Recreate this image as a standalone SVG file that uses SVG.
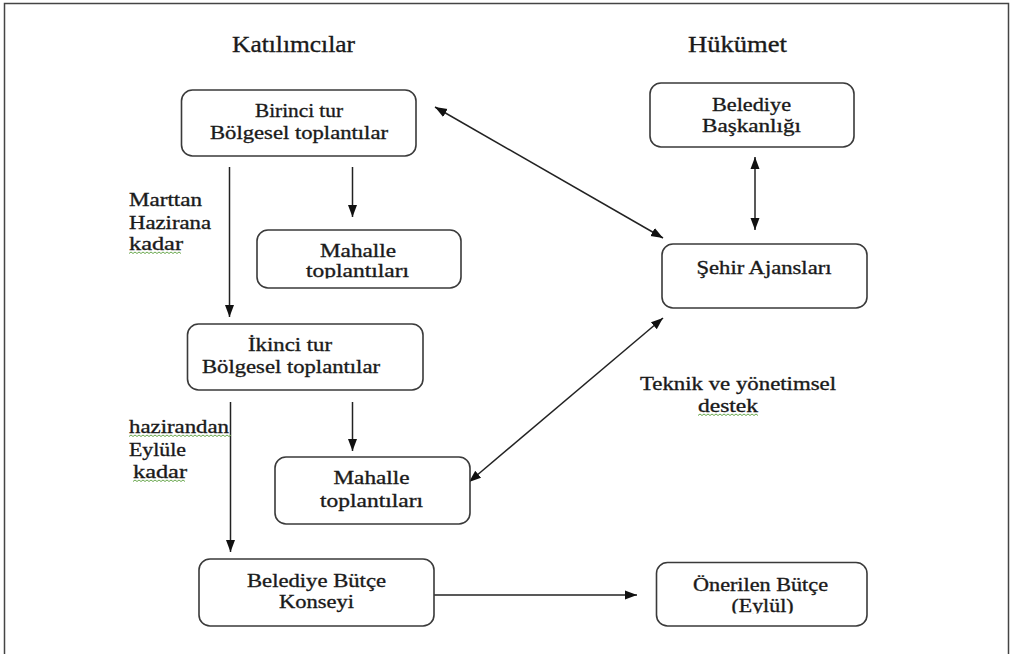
<svg xmlns="http://www.w3.org/2000/svg" width="1010" height="654" viewBox="0 0 1010 654">
<style>
.box{fill:#fff;stroke:#3a3a3a;stroke-width:1.6;}
.c{stroke:#222;stroke-width:1.5;fill:none;}
.sq{stroke:#6aa84f;stroke-width:1;fill:none;}
.tx{stroke:#1a1a1a;stroke-width:0.35;}
</style>
<defs>
<marker id="ah" markerUnits="userSpaceOnUse" markerWidth="14" markerHeight="12" viewBox="0 0 14 12" refX="12" refY="6" orient="auto-start-reverse">
<path d="M0,1.5 L12,6 L0,10.5 Z" fill="#111"/>
</marker>
<clipPath id="cm1"><rect x="250" y="230" width="220" height="48.5"/></clipPath>
<clipPath id="cev"><rect x="650" y="560" width="220" height="53.5"/></clipPath>
</defs>
<rect width="1010" height="654" fill="#fff"/>
<path d="M4.5,654 V3.5 H1008.5 V654" fill="none" stroke="#444" stroke-width="1.5"/>

<g id="headers" fill="#1a1a1a" class="tx">
<text font-family="Liberation Serif" font-size="23.5" x="232" y="52" textLength="123" lengthAdjust="spacingAndGlyphs">Katılımcılar</text>
<text font-family="Liberation Serif" font-size="23.5" x="688" y="52" textLength="99" lengthAdjust="spacingAndGlyphs">Hükümet</text>
</g>

<g id="connectors">
<line class="c" x1="229.5" y1="167" x2="229.5" y2="317" marker-end="url(#ah)"/>
<line class="c" x1="352.5" y1="167" x2="352.5" y2="217" marker-end="url(#ah)"/>
<line class="c" x1="435" y1="107" x2="663" y2="238" marker-start="url(#ah)" marker-end="url(#ah)"/>
<line class="c" x1="755" y1="157" x2="755" y2="230" marker-start="url(#ah)" marker-end="url(#ah)"/>
<line class="c" x1="230.5" y1="402" x2="230.5" y2="552" marker-end="url(#ah)"/>
<line class="c" x1="352.5" y1="402" x2="352.5" y2="451" marker-end="url(#ah)"/>
<line class="c" x1="469" y1="482" x2="663" y2="318" marker-start="url(#ah)" marker-end="url(#ah)"/>
<line class="c" x1="434" y1="595" x2="637" y2="595" marker-end="url(#ah)"/>
</g>

<g id="birinci" fill="#1a1a1a">
<rect class="box" x="181.5" y="90" width="234.5" height="66" rx="11"/>
<text class="tx" font-family="Liberation Serif" font-size="19.5" text-anchor="middle" x="299" y="117" textLength="88" lengthAdjust="spacingAndGlyphs">Birinci tur</text>
<text class="tx" font-family="Liberation Serif" font-size="19.5" text-anchor="middle" x="299" y="139" textLength="178" lengthAdjust="spacingAndGlyphs">Bölgesel toplantılar</text>
</g>

<g id="mahalle1" fill="#1a1a1a">
<rect class="box" x="257" y="230" width="204" height="58" rx="11"/>
<g clip-path="url(#cm1)">
<text class="tx" font-family="Liberation Serif" font-size="19.5" text-anchor="middle" x="358" y="257" textLength="76" lengthAdjust="spacingAndGlyphs">Mahalle</text>
<text class="tx" font-family="Liberation Serif" font-size="19.5" text-anchor="middle" x="357.5" y="277" textLength="103" lengthAdjust="spacingAndGlyphs">toplantıları</text>
</g>
</g>

<g id="label1" fill="#1a1a1a">
<text class="tx" font-family="Liberation Serif" font-size="19.5" x="129" y="206" textLength="73" lengthAdjust="spacingAndGlyphs">Marttan</text>
<text class="tx" font-family="Liberation Serif" font-size="19.5" x="129" y="229" textLength="82" lengthAdjust="spacingAndGlyphs">Hazirana</text>
<text class="tx" font-family="Liberation Serif" font-size="19.5" x="129" y="250" textLength="54" lengthAdjust="spacingAndGlyphs">kadar</text>
<path class="sq" d="M129,253.5 l2,-1.5 l2,1.5 l2,-1.5 l2,1.5 l2,-1.5 l2,1.5 l2,-1.5 l2,1.5 l2,-1.5 l2,1.5 l2,-1.5 l2,1.5 l2,-1.5 l2,1.5 l2,-1.5 l2,1.5 l2,-1.5 l2,1.5 l2,-1.5 l2,1.5 l2,-1.5 l2,1.5 l2,-1.5 l2,1.5 l2,-1.5 l2,1.5"/>
</g>

<g id="baskanlik" fill="#1a1a1a">
<rect class="box" x="650" y="83" width="204" height="64" rx="11"/>
<text class="tx" font-family="Liberation Serif" font-size="19.5" text-anchor="middle" x="751.5" y="111" textLength="79" lengthAdjust="spacingAndGlyphs">Belediye</text>
<text class="tx" font-family="Liberation Serif" font-size="19.5" text-anchor="middle" x="751.5" y="132" textLength="99" lengthAdjust="spacingAndGlyphs">Başkanlığı</text>
</g>

<g id="sehir" fill="#1a1a1a">
<rect class="box" x="662" y="244" width="205" height="64" rx="11"/>
<text class="tx" font-family="Liberation Serif" font-size="19.5" text-anchor="middle" x="764" y="274" textLength="135" lengthAdjust="spacingAndGlyphs">Şehir Ajansları</text>
</g>

<g id="ikinci" fill="#1a1a1a">
<rect class="box" x="187.5" y="324" width="235.5" height="66" rx="11"/>
<text class="tx" font-family="Liberation Serif" font-size="19.5" text-anchor="middle" x="290" y="350.5" textLength="84" lengthAdjust="spacingAndGlyphs">İkinci tur</text>
<text class="tx" font-family="Liberation Serif" font-size="19.5" text-anchor="middle" x="291" y="373" textLength="178" lengthAdjust="spacingAndGlyphs">Bölgesel toplantılar</text>
</g>

<g id="label2" fill="#1a1a1a">
<text class="tx" font-family="Liberation Serif" font-size="19.5" x="129" y="433" textLength="100" lengthAdjust="spacingAndGlyphs">hazirandan</text>
<path class="sq" d="M129,436.5 l2,-1.5 l2,1.5 l2,-1.5 l2,1.5 l2,-1.5 l2,1.5 l2,-1.5 l2,1.5 l2,-1.5 l2,1.5 l2,-1.5 l2,1.5 l2,-1.5 l2,1.5 l2,-1.5 l2,1.5 l2,-1.5 l2,1.5 l2,-1.5 l2,1.5 l2,-1.5 l2,1.5 l2,-1.5 l2,1.5 l2,-1.5 l2,1.5 l2,-1.5 l2,1.5 l2,-1.5 l2,1.5 l2,-1.5 l2,1.5 l2,-1.5 l2,1.5 l2,-1.5 l2,1.5 l2,-1.5 l2,1.5 l2,-1.5 l2,1.5 l2,-1.5 l2,1.5 l2,-1.5 l2,1.5 l2,-1.5 l2,1.5 l2,-1.5 l2,1.5 l2,-1.5 l2,1.5 l2,-1.5"/>
<text class="tx" font-family="Liberation Serif" font-size="19.5" x="129" y="455.5" textLength="57" lengthAdjust="spacingAndGlyphs">Eylüle</text>
<text class="tx" font-family="Liberation Serif" font-size="19.5" x="133" y="478" textLength="54" lengthAdjust="spacingAndGlyphs">kadar</text>
<path class="sq" d="M133,481.5 l2,-1.5 l2,1.5 l2,-1.5 l2,1.5 l2,-1.5 l2,1.5 l2,-1.5 l2,1.5 l2,-1.5 l2,1.5 l2,-1.5 l2,1.5 l2,-1.5 l2,1.5 l2,-1.5 l2,1.5 l2,-1.5 l2,1.5 l2,-1.5 l2,1.5 l2,-1.5 l2,1.5 l2,-1.5 l2,1.5 l2,-1.5 l2,1.5"/>
</g>

<g id="mahalle2" fill="#1a1a1a">
<rect class="box" x="275" y="457" width="195" height="67" rx="11"/>
<text class="tx" font-family="Liberation Serif" font-size="19.5" text-anchor="middle" x="371.5" y="484" textLength="76" lengthAdjust="spacingAndGlyphs">Mahalle</text>
<text class="tx" font-family="Liberation Serif" font-size="19.5" text-anchor="middle" x="371.5" y="506.5" textLength="103" lengthAdjust="spacingAndGlyphs">toplantıları</text>
</g>

<g id="destek" fill="#1a1a1a">
<text class="tx" font-family="Liberation Serif" font-size="19.5" x="640" y="390" textLength="196" lengthAdjust="spacingAndGlyphs">Teknik ve yönetimsel</text>
<text class="tx" font-family="Liberation Serif" font-size="19.5" x="698" y="412" textLength="60" lengthAdjust="spacingAndGlyphs">destek</text>
<path class="sq" d="M698,415.5 l2,-1.5 l2,1.5 l2,-1.5 l2,1.5 l2,-1.5 l2,1.5 l2,-1.5 l2,1.5 l2,-1.5 l2,1.5 l2,-1.5 l2,1.5 l2,-1.5 l2,1.5 l2,-1.5 l2,1.5 l2,-1.5 l2,1.5 l2,-1.5 l2,1.5 l2,-1.5 l2,1.5 l2,-1.5 l2,1.5 l2,-1.5 l2,1.5 l2,-1.5 l2,1.5 l2,-1.5 l2,1.5"/>
</g>

<g id="konsey" fill="#1a1a1a">
<rect class="box" x="199" y="559" width="235" height="67" rx="11"/>
<text class="tx" font-family="Liberation Serif" font-size="19.5" text-anchor="middle" x="316.5" y="586.5" textLength="139" lengthAdjust="spacingAndGlyphs">Belediye Bütçe</text>
<text class="tx" font-family="Liberation Serif" font-size="19.5" text-anchor="middle" x="316.5" y="608" textLength="75" lengthAdjust="spacingAndGlyphs">Konseyi</text>
</g>

<g id="onerilen" fill="#1a1a1a">
<rect class="box" x="656.5" y="562.5" width="210.5" height="63.5" rx="11"/>
<g clip-path="url(#cev)">
<text class="tx" font-family="Liberation Serif" font-size="19.5" text-anchor="middle" x="760.5" y="590.5" textLength="135" lengthAdjust="spacingAndGlyphs">Önerilen Bütçe</text>
<text class="tx" font-family="Liberation Serif" font-size="19.5" text-anchor="middle" x="762.5" y="611.5" textLength="62" lengthAdjust="spacingAndGlyphs">(Eylül)</text>
</g>
</g>
</svg>
